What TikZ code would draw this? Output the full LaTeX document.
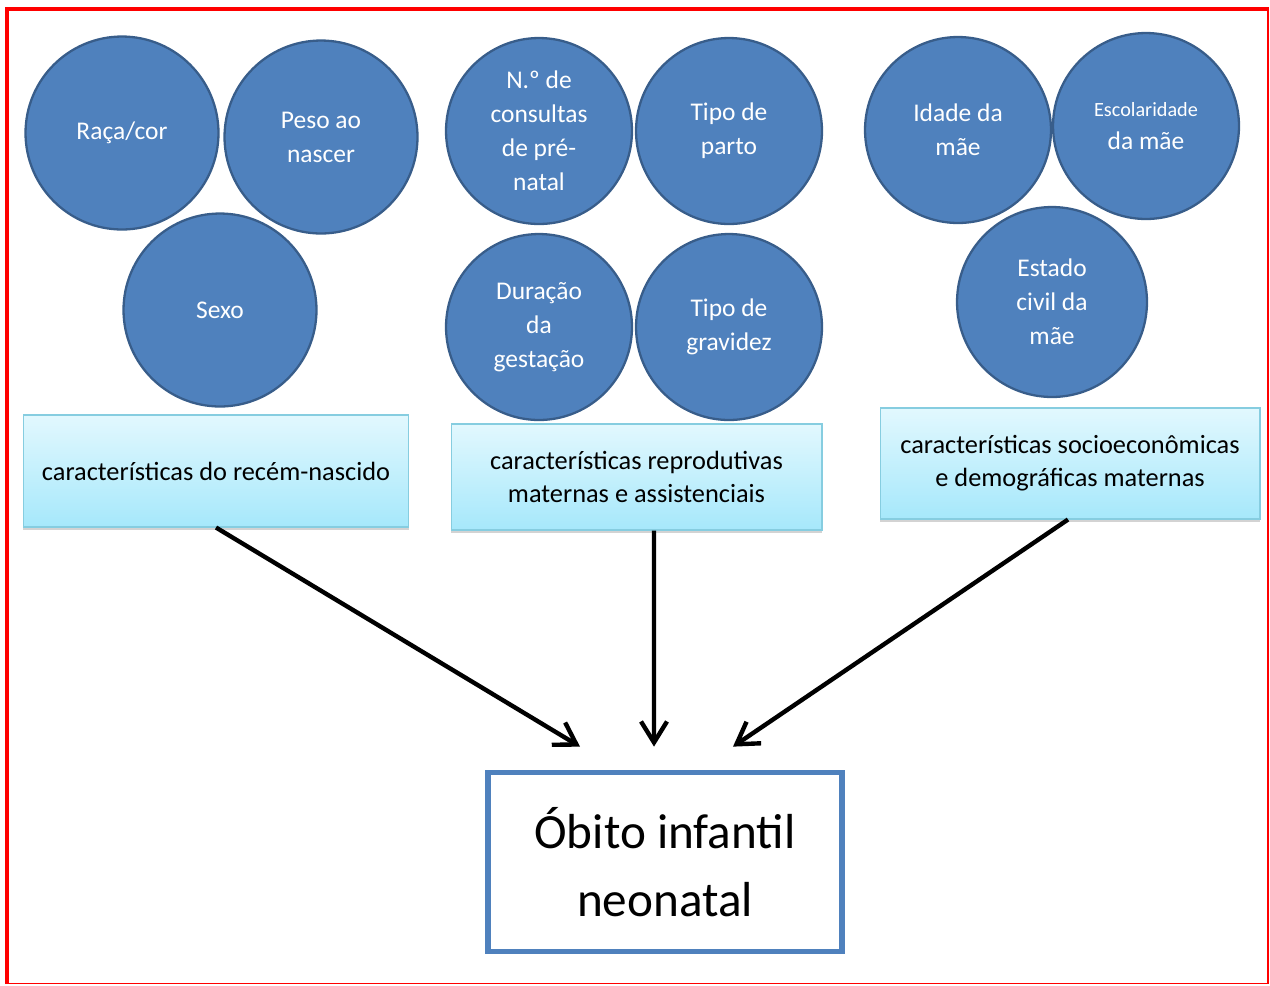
\documentclass[tikz,border=0pt]{standalone}
\usepackage{fontspec}
\setmainfont{Carlito}
\usetikzlibrary{arrows.meta,shadows}

\definecolor{factorfill}{HTML}{4F81BD}
\definecolor{factorline}{HTML}{385D8A}
\definecolor{grouptop}{HTML}{E2F8FE}
\definecolor{groupbottom}{HTML}{A6E8FB}
\definecolor{groupline}{HTML}{86CDE0}
\definecolor{framered}{HTML}{FF0000}

\begin{document}
\begin{tikzpicture}[x=0.02cm, y=-0.02cm]
    \tikzset{factor/.style={circle, draw=factorline, line width=1.3pt, fill=factorfill, text=white,
        minimum size=3.86cm, inner sep=0pt, align=center, font=\fontsize{14.5}{19.3}\selectfont}}
    \tikzset{factor small/.style={factor, minimum size=3.72cm}}
    \tikzset{group/.style={rectangle, draw=groupline, line width=0.6pt, top color=grouptop,
        bottom color=groupbottom, drop shadow={shadow xshift=0pt, shadow yshift=-1.5pt, opacity=0.35},
        align=center, inner sep=0pt, font=\fontsize{15}{18.8}\selectfont}}
    \tikzset{flow/.style={line width=2.5pt, -{Straight Barb[length=0.42cm, width=0.52cm]}}}

    % page size
    \useasboundingbox (0,0) rectangle (1270,985);

    % red frame
    \draw[framered, line width=2.3pt] (5,9) -- (1269,9);
    \draw[framered, line width=2.3pt] (7,7) -- (7,984);
    \draw[framered, line width=1.1pt] (1268,9) -- (1268,984);
    \draw[framered, line width=0.8pt] (7,983.5) -- (1268,983.5);

    % newborn circles
    \node (raca) at (122,133) [factor] {Raça/cor};
    \node (peso) at (321,137) [factor] {Peso ao\\nascer};
    \node (sexo) at (220,310) [factor] {Sexo};

    % reproductive circles
    \node (consultas) at (539,131) [factor small] {N.º de\\consultas\\de pré-\\natal};
    \node (parto)     at (729,131) [factor small] {Tipo de\\parto};
    \node (duracao)   at (539,327) [factor small] {Duração\\da\\gestação};
    \node (gravidez)  at (729,327) [factor small] {Tipo de\\gravidez};

    % socioeconomic circles
    \node (idade)        at (958,130)  [factor small] {Idade da\\mãe};
    \node (escolaridade) at (1146,126) [factor small] {{\fontsize{11.5}{15}\selectfont Escolaridade}\\[-1pt]da mãe};
    \node (civil)        at (1052,302) [factor small, minimum size=3.8cm] {Estado\\civil da\\mãe};

    % group boxes
    \node (recem)  at (216,471)    [group, minimum width=7.72cm, minimum height=2.24cm] {características do recém-nascido};
    \node (reprod) at (636.5,477)  [group, minimum width=7.42cm, minimum height=2.12cm] {características reprodutivas\\maternas e assistenciais};
    \node (socio)  at (1070,463.5) [group, minimum width=7.6cm, minimum height=2.22cm] {características socioeconômicas\\e demográficas maternas};

    % outcome
    \node (obito) at (665,862) [rectangle, draw=factorfill, line width=3.3pt, fill=white,
        minimum width=7.08cm, minimum height=3.58cm, align=center,
        font=\fontsize{28}{38.5}\selectfont] {Óbito infantil\\neonatal};

    % arrow ends
    \coordinate (end recem)  at ([xshift=-1.7cm, yshift=0.46cm]obito.north);
    \coordinate (end reprod) at ([xshift=-0.22cm, yshift=0.46cm]obito.north);
    \coordinate (end socio)  at ([xshift=1.36cm, yshift=0.46cm]obito.north);

    % arrows
    \draw[flow] (recem.south) -- (end recem);
    \draw[flow] ([xshift=0.35cm]reprod.south) -- (end reprod);
    \draw[flow] ([xshift=-0.04cm]socio.south) -- (end socio);

\end{tikzpicture}
\end{document}
